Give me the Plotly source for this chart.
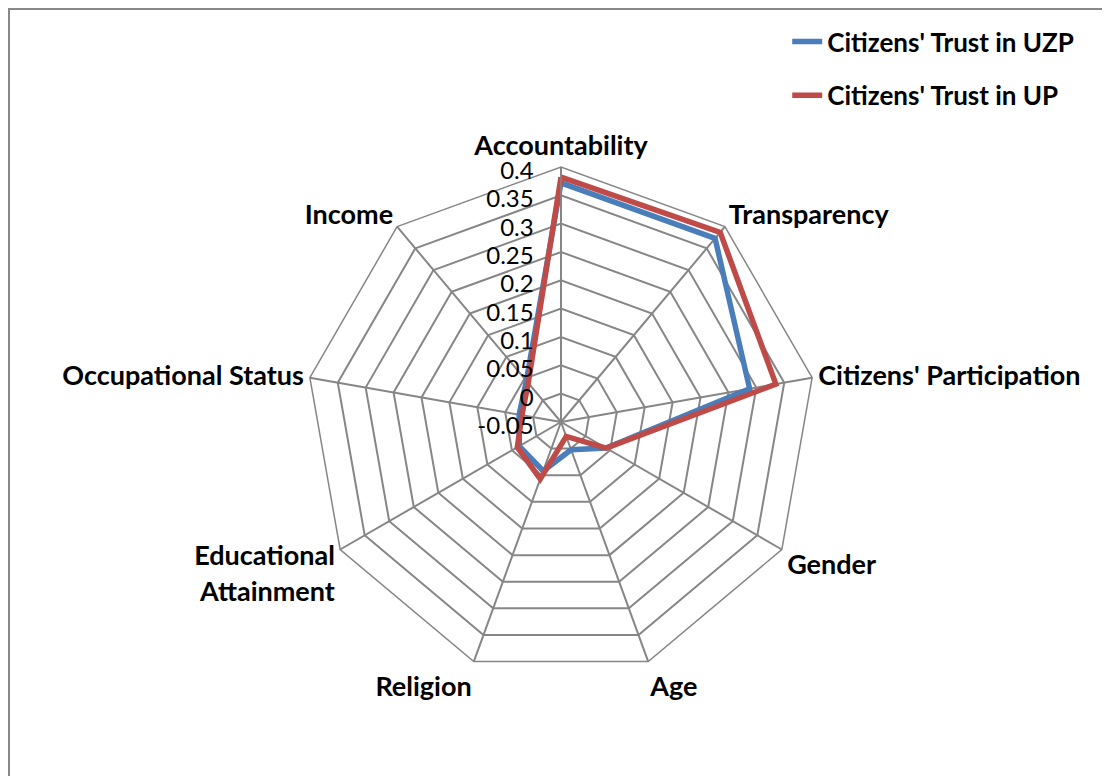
import plotly.graph_objects as go

categories = ["Accountability", "Transparency", "Citizens' Participation", "Gender",
              "Age", "Religion", "Educational<br>Attainment", "Occupational Status", "Income"]
uzp_values = [0.372, 0.373, 0.288, 0.042, 0.002, 0.042, 0.035, 0.025, 0.045]
up_values = [0.382, 0.387, 0.335, 0.042, -0.023, 0.057, 0.039, 0.020, 0.040]
series_names = ["Citizens' Trust in UZP", "Citizens' Trust in UP"]
radial_ticks = [-0.05, 0, 0.05, 0.1, 0.15, 0.2, 0.25, 0.3, 0.35, 0.4]
tick_text = ["-0.05", "0", "0.05", "0.1", "0.15", "0.2", "0.25", "0.3", "0.35", "0.4"]

W, H = 1110, 776
# page body has an 8px margin, so paper coords = screen coords - 8
cx, cy, R = 553, 414, 255

fig = go.Figure()
for name, vals, col, grp in [(series_names[0], uzp_values, "#4A7EBB", "a"),
                             (series_names[1], up_values, "#BE4B48", "b")]:
    fig.add_trace(go.Scatterpolar(
        r=vals + vals[:1], theta=categories + categories[:1],
        mode="lines", name=name, legendgroup=grp,
        line=dict(color=col, width=5.5),
    ))

fig.update_layout(
    width=W, height=H,
    margin=dict(l=0, r=0, t=0, b=0),
    paper_bgcolor="white",
    font=dict(family="Lato, Carlito, 'Open Sans', sans-serif", color="black"),
    polar=dict(
        domain=dict(x=[(cx - R) / W, (cx + R) / W], y=[(H - cy - R) / H, (H - cy + R) / H]),
        bgcolor="white",
        gridshape="linear",
        angularaxis=dict(
            direction="clockwise", rotation=90,
            showline=True, linecolor="#868686", linewidth=1.5,
            gridcolor="#868686", gridwidth=1.5,
            ticks="", tickfont=dict(size=27, family="Lato", weight="bold"),
        ),
        radialaxis=dict(
            range=[-0.05, 0.4], tickvals=radial_ticks, ticktext=tick_text,
            angle=90, side="counterclockwise",
            showline=True, linecolor="#868686", linewidth=1.5,
            gridcolor="#868686", gridwidth=1.5,
            ticks="outside", ticklen=5, tickcolor="rgba(0,0,0,0)",
            tickfont=dict(size=24, family="Lato"),
        ),
    ),
    legend=dict(
        x=0.702, y=0.987, xanchor="left", yanchor="top",
        font=dict(size=26, family="Lato", weight="bold"),
        traceorder="grouped", tracegroupgap=17,
        bgcolor="rgba(0,0,0,0)",
    ),
    shapes=[dict(type="rect", xref="paper", yref="paper",
                 x0=1 / W, x1=1.05, y0=-0.05, y1=1 - 1 / H,
                 line=dict(color="#888888", width=2), layer="below")],
)

fig.write_html("out.html")
